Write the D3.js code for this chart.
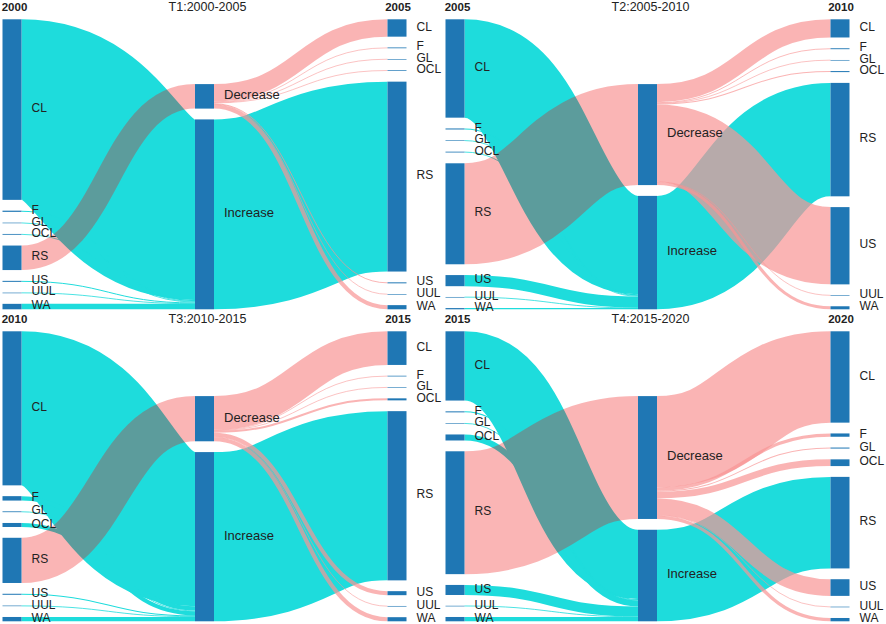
<!DOCTYPE html>
<html>
<head>
<meta charset="utf-8">
<script src="https://cdn.jsdelivr.net/npm/d3@7/dist/d3.min.js"></script>
<style>
  body { margin: 0; background: #fff; }
  text { font-family: "Liberation Sans", Arial, sans-serif; fill: #222; }
</style>
</head>
<body>
<div id="chart"></div>
<script>
// land types, in the order they are stacked in the first and last column
const types = ['CL', 'F', 'GL', 'OCL', 'RS', 'US', 'UUL', 'WA']
const directions = ['Decrease', 'Increase']

const periods = ['T1:2000-2005', 'T2:2005-2010', 'T3:2010-2015', 'T4:2015-2020']
const startYears = ['2000', '2005', '2010', '2015']
const endYears = ['2005', '2010', '2015', '2020']

// which middle node each land type flows into / comes out of
const startDir = ['Increase', 'Increase', 'Increase', 'Increase', 'Decrease', 'Increase', 'Increase', 'Increase']
const endDir = ['Decrease', 'Decrease', 'Decrease', 'Decrease', 'Increase', 'Decrease', 'Decrease', 'Decrease']

// areas (relative units)
const t1Start = [182.0, 1.2, 0.5, 0.8, 24.7, 1.0, 0.4, 5.5]
const t1End = [17.5, 0.8, 0.3, 0.7, 191.4, 1.0, 0.2, 4.2]

const t2Start = [97.4, 1.0, 0.6, 0.8, 100.0, 11.0, 0.3, 1.2]
const t2End = [18.0, 0.9, 0.3, 1.0, 112.3, 76.5, 0.3, 3.0]

const t3Start = [153.4, 4.4, 0.8, 4.0, 45.0, 1.0, 0.6, 4.3]
const t3End = [33.5, 0.7, 0.3, 2.0, 168.5, 4.0, 0.4, 4.1]

const t4Start = [69.0, 1.0, 0.5, 6.0, 122.4, 10.0, 0.4, 4.3]
const t4End = [91.0, 3.3, 1.0, 6.7, 91.2, 16.6, 0.5, 3.3]

const starts = [t1Start, t2Start, t3Start, t4Start]
const ends = [t1End, t2End, t3End, t4End]

const width = 886,
    height = 624
const panelW = 443,
    panelH = 312
const nodeWidth = 19,
    nodePadding = 10.8
const nodeTop = 19.3,
    nodeBottom = 309.3

const nodeColor = '#1f77b4'
const cyan = '#1edcdc'

const svg = d3.select('#chart')
    .append('svg')
    .attr('width', width)
    .attr('height', height)

function buildGraph(startVals, endVals) {
    let left = types.map((t, i) => ({ name: t, col: 0, value: startVals[i] }))
    let mid = directions.map(d => ({
        name: d,
        col: 1,
        value: d3.sum(startVals.filter((v, i) => startDir[i] == d))
    }))
    let right = types.map((t, i) => ({ name: t, col: 2, value: endVals[i] }))
    let links = []
    types.forEach((t, i) => {
        links.push({ source: left[i], target: mid[directions.indexOf(startDir[i])], value: startVals[i], side: 'left' })
    })
    types.forEach((t, i) => {
        links.push({ source: mid[directions.indexOf(endDir[i])], target: right[i], value: endVals[i], side: 'right' })
    })
    return { columns: [left, mid, right], links: links }
}

function layout(graph, ox, oy) {
    let x = d3.scaleLinear().domain([0, 2]).range([ox + 2.5, ox + 387.5])
    let maxN = d3.max(graph.columns, c => c.length)
    let total = d3.max(graph.columns, c => d3.sum(c, n => n.value))
    let ky = d3.scaleLinear()
        .domain([0, total])
        .range([0, (nodeBottom - nodeTop) - (maxN - 1) * nodePadding])

    graph.columns.forEach((col, ci) => {
        let y = oy + nodeTop
        col.forEach(n => {
            n.x0 = x(ci)
            n.x1 = n.x0 + nodeWidth
            n.y0 = y
            n.y1 = y + ky(n.value)
            y = n.y1 + nodePadding
        })
        // the middle column sits on the bottom edge
        if (ci == 1) {
            let shift = oy + nodeBottom - (y - nodePadding)
            col.forEach(n => { n.y0 += shift; n.y1 += shift })
        }
        col.forEach(n => { n.sourceLinks = []; n.targetLinks = [] })
    })

    graph.links.forEach(l => {
        l.width = ky(l.value)
        l.source.sourceLinks.push(l)
        l.target.targetLinks.push(l)
    })

    graph.columns.flat().forEach(n => {
        let y0 = n.y0
        n.sourceLinks.sort((a, b) => a.target.y0 - b.target.y0)
        n.sourceLinks.forEach(l => { l.y0 = y0 + l.width / 2; y0 += l.width })
        let y1 = n.y0
        n.targetLinks.sort((a, b) => a.source.y0 - b.source.y0)
        n.targetLinks.forEach(l => { l.y1 = y1 + l.width / 2; y1 += l.width })
    })
}

const linkPath = d3.linkHorizontal()
    .source(d => [d.source.x1, d.y0])
    .target(d => [d.target.x0, d.y1])

function linkStroke(d) {
    let dir = d.side == 'left' ? d.target.name : d.source.name
    if (dir == 'Increase') return cyan
    return d.side == 'left' ? '#f00a0a' : '#f89494'
}

function linkOpacity(d) {
    let dir = d.side == 'left' ? d.target.name : d.source.name
    if (dir == 'Increase') return 1
    return d.side == 'left' ? 0.3 : 0.7
}

periods.forEach((p, pi) => {
    let ox = (pi % 2) * panelW
    let oy = Math.floor(pi / 2) * panelH
    let graph = buildGraph(starts[pi], ends[pi])
    layout(graph, ox, oy)

    let g = svg.append('g').attr('class', 'panel')

    // increase links first, decrease links on top
    let links = graph.links.slice().sort((a, b) => linkOpacity(b) - linkOpacity(a))

    g.selectAll('.link')
        .data(links)
        .enter().append('path')
        .attr('class', 'link')
        .attr('d', linkPath)
        .attr('fill', 'none')
        .attr('stroke', linkStroke)
        .attr('stroke-opacity', linkOpacity)
        .attr('stroke-width', d => Math.max(0.8, d.width))

    let nodes = graph.columns.flat()

    g.selectAll('.node')
        .data(nodes)
        .enter().append('rect')
        .attr('class', 'node')
        .attr('x', d => d.x0)
        .attr('y', d => d.y0)
        .attr('width', nodeWidth)
        .attr('height', d => Math.max(0.6, d.y1 - d.y0))
        .attr('fill', nodeColor)

    g.selectAll('.label')
        .data(nodes)
        .enter().append('text')
        .attr('class', 'label')
        .attr('x', d => d.x1 + 10)
        .attr('y', d => (d.y0 + d.y1) / 2)
        .attr('dy', '0.22em')
        .style('font-size', d => d.col == 1 ? '13px' : '12px')
        .text(d => d.name)

    let cols = graph.columns
    g.append('text')
        .attr('x', cols[0][0].x0 + nodeWidth / 2 + 2.5)
        .attr('y', oy + 11)
        .attr('text-anchor', 'middle')
        .style('font-size', '11.5px')
        .style('font-weight', 'bold')
        .text(startYears[pi])
    g.append('text')
        .attr('x', cols[1][0].x0 + nodeWidth / 2 + 3)
        .attr('y', oy + 11)
        .attr('text-anchor', 'middle')
        .style('font-size', '12.5px')
        .text(p)
    g.append('text')
        .attr('x', cols[2][0].x0 + nodeWidth / 2 + 1)
        .attr('y', oy + 11)
        .attr('text-anchor', 'middle')
        .style('font-size', '11.5px')
        .style('font-weight', 'bold')
        .text(endYears[pi])
})
</script>
</body>
</html>
